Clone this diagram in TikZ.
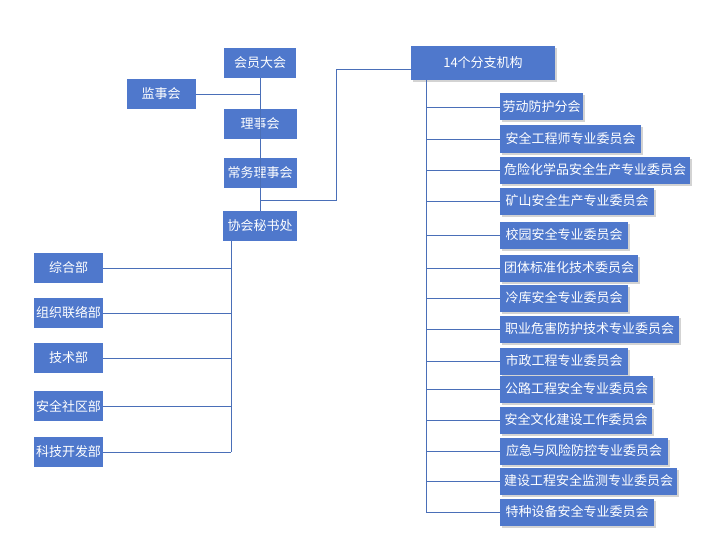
\documentclass[tikz,border=0pt]{standalone}
\usepackage{fontspec}
\newfontfamily\cjk{Noto Sans CJK SC}
\usetikzlibrary{shadows}
\definecolor{boxblue}{HTML}{4F78CC}
\definecolor{linkblue}{HTML}{4A6FB8}
\tikzset{
    unitbox/.style = {fill = boxblue, text = white, inner sep = 0pt,
        minimum height = 30pt, font = \cjk\fontsize{13}{15}\selectfont},
    subbox/.style = {unitbox, minimum height = 27pt, anchor = west,
        drop shadow = {shadow xshift = 2pt, shadow yshift = -2pt, opacity = 0.35}},
    link/.style = {draw = linkblue, line width = 0.9pt},
}
\begin{document}
\begin{tikzpicture}[x = 1pt, y = -1pt]
    \useasboundingbox (0, 0) rectangle (721, 543);

    % Main chain
    \node[unitbox, minimum width = 72pt] (assembly)   at (260, 63)  {会员大会};
    \node[unitbox, minimum width = 69pt] (supervisor) at (161, 94)  {监事会};
    \node[unitbox, minimum width = 73pt] (council)    at (260, 124) {理事会};
    \node[unitbox, minimum width = 73pt] (standing)   at (260, 173) {常务理事会};
    \node[unitbox, minimum width = 74pt] (secretary)  at (260, 226) {协会秘书处};
    \node[unitbox, minimum width = 144pt, minimum height = 34pt,
          drop shadow = {shadow xshift = 2pt, shadow yshift = -2pt, opacity = 0.35}]
          (branches) at (483, 63) {14个分支机构};

    \draw[link] (assembly) -- (secretary);
    \draw[link] (supervisor) -- (supervisor -| assembly);
    \coordinate (fork) at (260, 200);
    \draw[link] (fork) -- (336, 200) -- (336, 69) -- (branches.west |- 0, 69);

    % Departments under the secretariat
    \coordinate (deptrail) at (231, 241);
    \foreach \name/\y [count = \i] in {综合部/268, 组织联络部/313, 技术部/358,
            安全社区部/406, 科技开发部/452} {
        \node[unitbox, minimum width = 69pt] (dept\i) at (68.5, \y) {\name};
        \draw[link] (dept\i) -- (231, \y);
    }
    \draw[link] (deptrail) -- (231, 452);

    % Branch committees
    \coordinate (branchrail) at (426, 80);
    \foreach \name/\y/\w [count = \i] in {
            劳动防护分会/107/83,
            安全工程师专业委员会/139/141,
            危险化学品安全生产专业委员会/170/190,
            矿山安全生产专业委员会/201/154,
            校园安全专业委员会/235/128,
            团体标准化技术委员会/268/138,
            冷库安全专业委员会/298/128,
            职业危害防护技术专业委员会/329/179,
            市政工程专业委员会/361/128,
            公路工程安全专业委员会/389/153,
            安全文化建设工作委员会/420/152,
            应急与风险防控专业委员会/451/168,
            建设工程安全监测专业委员会/481/177,
            特种设备安全专业委员会/512/154} {
        \node[subbox, minimum width = \w pt] (branch\i) at (500, \y) {\name};
        \draw[link] (branch\i.west) -- (426, \y);
    }
    \draw[link] (branchrail) -- (426, 512);
\end{tikzpicture}
\end{document}
